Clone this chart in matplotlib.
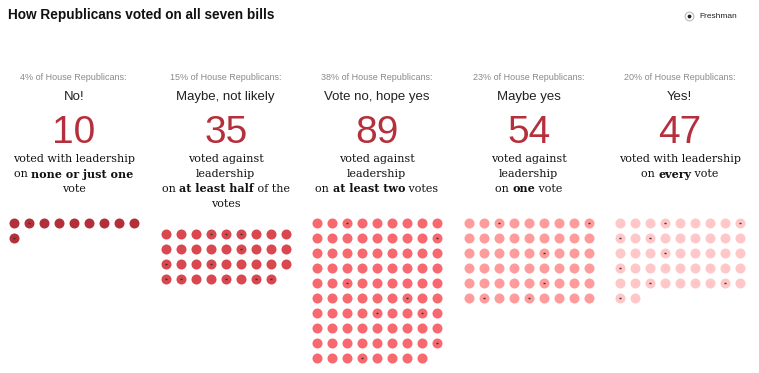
import matplotlib
matplotlib.use('Agg')
import matplotlib.pyplot as plt

# ================= data =================
title = 'How Republicans voted on all seven bills'
shares = ['4% of House Republicans:', '15% of House Republicans:', '38% of House Republicans:',
          '23% of House Republicans:', '20% of House Republicans:']
labels = ['No!', 'Maybe, not likely', 'Vote no, hope yes', 'Maybe yes', 'Yes!']
counts = [10, 35, 89, 54, 47]
# description lines, each a list of (text, bold)
descs = [
    [[('voted with leadership', False)], [('on ', False), ('none or just one', True)], [('vote', False)]],
    [[('voted against', False)], [('leadership', False)],
     [('on ', False), ('at least half', True), (' of the', False)], [('votes', False)]],
    [[('voted against', False)], [('leadership', False)],
     [('on ', False), ('at least two', True), (' votes', False)]],
    [[('voted against', False)], [('leadership', False)], [('on ', False), ('one', True), (' vote', False)]],
    [[('voted with leadership', False)], [('on ', False), ('every', True), (' vote', False)]],
]
# freshman members, index in each group (row-major, 9 per row)
freshmen = [
    [1, 9],
    [3, 4, 5, 14, 18, 21, 27, 28, 31, 33, 34],
    [2, 17, 38, 51, 58, 61, 80, 84],
    [2, 8, 23, 41, 46, 49],
    [3, 8, 9, 11, 21, 27, 38, 43, 45],
]
dot_colors = ['#b3303b', '#d9474f', '#f7686f', '#ff9b9b', '#ffc7c7']

# ================= drawing =================
W, H = 759, 373
fig = plt.figure(figsize=(W / 100, H / 100), dpi=100)
ax = fig.add_axes([0, 0, 1, 1])
ax.set_xlim(0, W)
ax.set_ylim(H, 0)
ax.axis('off')

sans = 'Liberation Sans'
serif = 'DejaVu Serif'
pitch = 15
ncol = 9
starts = [13.7, 165.7, 316.7, 468.7, 619.7]
dot_y0 = [223, 234, 223, 223, 223]

fig.canvas.draw()
renderer = fig.canvas.get_renderer()


def draw_line(cx, y, parts, size):
    # draw mixed-weight text segments centered at cx
    texts = []
    for s, b in parts:
        t = ax.text(0, y, s, fontsize=size, family=serif, fontweight='bold' if b else 'normal',
                    ha='left', va='center', color='#111111')
        texts.append(t)
    widths = [t.get_window_extent(renderer).width for t in texts]
    x = cx - sum(widths) / 2
    for t, w in zip(texts, widths):
        t.set_x(x)
        x += w


ax.text(8, 15, title, fontsize=9.8, family=sans, fontweight='bold', ha='left', va='center',
        color='#111111')
ax.scatter([689], [16], s=40, facecolor='white', edgecolor='#bbbbbb', linewidth=0.8)
ax.scatter([689], [16], s=3, color='#222222')
ax.text(699, 16, 'Freshman', fontsize=6, family=sans, ha='left', va='center', color='#222222')

for g in range(5):
    cx = starts[g] + 60
    ax.text(cx, 78, shares[g], fontsize=6.5, family=sans, color='#8a8a8a', ha='center', va='center')
    ax.text(cx, 97, labels[g], fontsize=9.5, family=sans, color='#222222', ha='center', va='center')
    ax.text(cx, 133, str(counts[g]), fontsize=28, family=sans, color='#b5303c', ha='center', va='center')
    for i, parts in enumerate(descs[g]):
        draw_line(cx, 159 + 15 * i, parts, 8)

    n = counts[g]
    xs = [starts[g] + pitch * (k % ncol) for k in range(n)]
    ys = [dot_y0[g] + pitch * (k // ncol) for k in range(n)]
    ax.scatter(xs, ys, s=52, color=dot_colors[g], linewidth=0)
    fx = [xs[k] for k in freshmen[g]]
    fy = [ys[k] for k in freshmen[g]]
    ax.scatter(fx, fy, marker='_', s=4, color='#333333', linewidth=1)

fig.savefig('out.png', dpi=100)
